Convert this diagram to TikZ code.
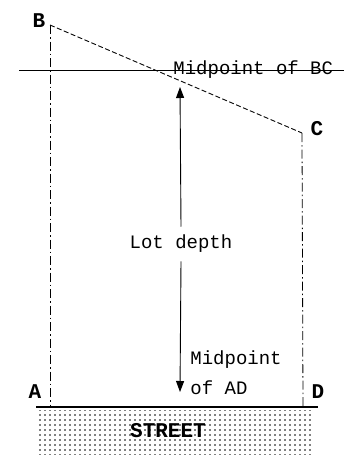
\documentclass[tikz,border=0pt]{standalone}
\usepackage{fontspec}
\setmainfont{Liberation Mono}
\usetikzlibrary{arrows.meta,patterns.meta}

\tikzset{
  lotline/.style={line width=.8pt,dash pattern=on 9pt off 3pt on 1.5pt off 3pt},
  slope/.style={line width=.9pt,dash pattern=on 5pt off 2.5pt},
  corner/.style={font=\fontsize{21}{23}\selectfont\bfseries,inner sep=1pt},
  caption/.style={font=\fontsize{19}{21}\selectfont,inner sep=1pt},
  depth/.style={line width=.9pt,-{Triangle[length=11pt,width=8pt]}}
}

\begin{document}
\begin{tikzpicture}[x=1pt,y=-1pt,line width=.8pt]
\path[use as bounding box] (0,0) rectangle (344,455);
% corners of the lot
\coordinate (B) at (50,25);
\coordinate (C) at (302,133);
\coordinate (A) at (50,407);
\coordinate (D) at (303,407);
\node[corner] (Blbl) at (39,21) {B};
\node[corner] (Clbl) at (317,129) {C};
\node[corner] (Albl) at (35,392) {A};
\node[corner] (Dlbl) at (318,392) {D};
\draw[slope] (B) -- (C);
\draw[lotline] (B) -- (A);
\draw[lotline] (C) -- (D);
% line through the midpoint of BC
\coordinate (hl) at (19,70);
\coordinate (hr) at (344,70);
\draw[line width=.9pt] (hl) -- (hr);
\node[caption,anchor=west] (midbc) at (172,70) {Midpoint of BC};
% lot depth
\coordinate (top) at (180,87);
\coordinate (bot) at (180,392);
\node[caption,inner sep=8pt] (lot) at (181,244) {Lot depth};
\draw[depth] (lot.north) -- (top);
\draw[depth] (lot.south) -- (bot);
\node[caption,anchor=west] (midad) at (189,360) {Midpoint};
\node[caption,anchor=west] (ofad) at (189,388) {of AD};
% street
\fill[pattern={Dots[distance=5pt,radius=.8pt]}] (36,410) rectangle (313,455);
\draw[line width=1.5pt] (36,407) -- (318,407);
\node[corner,font=\fontsize{21}{23}\selectfont\bfseries] (street) at (168,431) {STREET};
\end{tikzpicture}
\end{document}
